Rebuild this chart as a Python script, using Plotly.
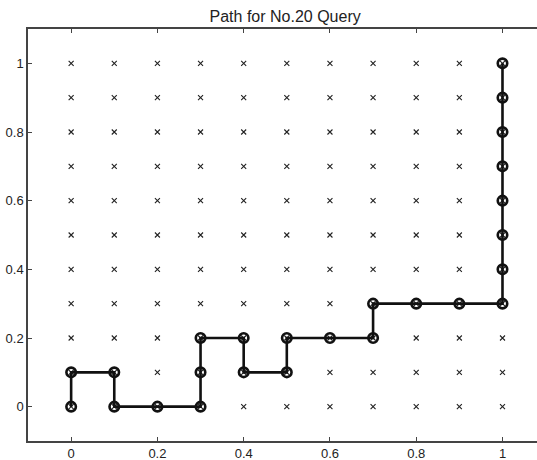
import plotly.graph_objects as go

# Grid of candidate points
grid_x = [0.0, 0.1, 0.2, 0.3, 0.4, 0.5, 0.6, 0.7, 0.8, 0.9, 1.0]
grid_y = [0.0, 0.1, 0.2, 0.3, 0.4, 0.5, 0.6, 0.7, 0.8, 0.9, 1.0]

# Path for query No.20
path_x = [0, 0, 0.1, 0.1, 0.2, 0.3, 0.3, 0.3, 0.4, 0.4, 0.5, 0.5, 0.6, 0.7, 0.7,
          0.8, 0.9, 1, 1, 1, 1, 1, 1, 1, 1]
path_y = [0, 0.1, 0.1, 0, 0, 0, 0.1, 0.2, 0.2, 0.1, 0.1, 0.2, 0.2, 0.2, 0.3,
          0.3, 0.3, 0.3, 0.4, 0.5, 0.6, 0.7, 0.8, 0.9, 1]

x_ticks = [0, 0.2, 0.4, 0.6, 0.8, 1]
y_ticks = [0, 0.2, 0.4, 0.6, 0.8, 1]

gx = [x for y in grid_y for x in grid_x]
gy = [y for y in grid_y for x in grid_x]

fig = go.Figure()
fig.add_trace(go.Scatter(
    x=gx, y=gy, mode="markers",
    marker=dict(symbol="x-thin", size=5, line=dict(width=1.1, color="#222")),
    showlegend=False, hoverinfo="skip"))
fig.add_trace(go.Scatter(
    x=path_x, y=path_y, mode="lines+markers",
    line=dict(color="#111", width=2.6),
    marker=dict(symbol="circle-open", size=9.5, line=dict(width=2.6, color="#111")),
    showlegend=False))

fig.update_layout(
    width=537, height=460,
    margin=dict(l=28, r=0, t=29, b=19),
    paper_bgcolor="white", plot_bgcolor="white",
    font=dict(family="Liberation Sans, Arial, sans-serif", size=13, color="#222"),
    title=dict(text="Path for No.20 Query", x=0.531, xanchor="center",
               y=0.965, yanchor="middle",
               font=dict(size=16, color="#222")),
)
fig.update_xaxes(range=[-0.1, 1.08], tickvals=x_ticks, showgrid=False, zeroline=False,
                 showline=True, linecolor="#444", linewidth=1.5, mirror="ticks",
                 ticks="inside", ticklen=4, tickcolor="#444", automargin=False,
                 tickfont=dict(size=13))
fig.update_yaxes(range=[-0.1, 1.1], tickvals=y_ticks, showgrid=False, zeroline=False,
                 showline=True, linecolor="#444", linewidth=1.5, mirror=False,
                 ticks="inside", ticklen=4, tickcolor="#444", automargin=False,
                 tickfont=dict(size=13), ticklabelstandoff=0)

fig.write_html("out.html",
               config={"displayModeBar": False},
               post_script="document.body.style.margin='0';document.body.style.overflow='hidden';")
